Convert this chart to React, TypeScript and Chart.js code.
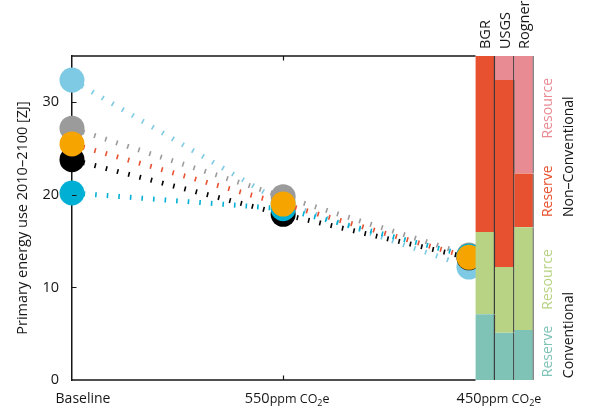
import React, { useEffect, useRef } from 'react';
import { Chart, registerables } from 'chart.js';

Chart.register(...registerables);

// ---------- data ----------
const scenarioLabels = ['Baseline', '550', '450'];
const scenarioX = [0, 1, 1.88];

const lightBlueValues = [32.4, 19.1, 12.2];
const grayValues = [27.2, 19.8, 13.5];
const orangeValues = [25.5, 19.0, 13.25];
const blackValues = [23.8, 17.9, 13.2];
const cyanValues = [20.2, 18.5, 13.4];

const sources = ['BGR', 'USGS', 'Rogner'];
const sourceX = [1.957, 2.049, 2.141];
const conventionalReserve = [7.1, 5.1, 5.4];
const conventionalResource = [8.9, 7.1, 11.1];
const nonConventionalReserve = [19.0, 20.2, 5.8];
const nonConventionalResource = [0, 2.6, 12.7];

const yTickStep = 10;
const yMax = 35;
const yTitle = 'Primary energy use 2010–2100 [ZJ]';

// ---------- styles ----------
const FONT = '"Open Sans", sans-serif';
const INK = '#161616';
const C_LIGHTBLUE = '#7ecae4';
const C_GRAY = '#9b9b9b';
const C_ORANGE = '#f5a400';
const C_RED = '#e8512f';
const C_BLACK = '#000000';
const C_CYAN = '#00b0d4';
const C_TEAL = '#7fc3b6';
const C_GREEN = '#b8d384';
const C_PINK = '#e98b93';

function seriesData(values: number[]) {
  return values.map((v, i) => ({ x: scenarioX[i], y: v }));
}

function floatingData(lower: number[][], seg: number[]) {
  return seg.map((v, i) => {
    const lo = lower.reduce((s, arr) => s + arr[i], 0);
    return { x: sourceX[i], y: [lo, lo + v] };
  });
}

function lineDataset(label: string, values: number[], pointColor: string, lineColor: string, order: number) {
  return {
    type: 'line' as const,
    label,
    data: seriesData(values),
    borderColor: lineColor,
    borderWidth: 5,
    borderDash: [1.6, 10],
    borderCapStyle: 'butt' as const,
    pointBackgroundColor: pointColor,
    pointBorderWidth: 0,
    pointRadius: 12.5,
    pointHoverRadius: 12.5,
    tension: 0,
    fill: false,
    clip: false as const,
    order,
  };
}

const barBorderColors = ['#3a3a3a', '#3a3a3a', '#8a8a8a'];

function barDataset(label: string, data: any[], color: string) {
  return {
    type: 'bar' as const,
    label,
    data,
    backgroundColor: color,
    borderColor: barBorderColors,
    borderWidth: { top: 0, bottom: 0, left: 0, right: 1.5 },
    borderSkipped: false as const,
    grouped: false,
    barPercentage: 1,
    categoryPercentage: 1,
    order: 0,
  };
}

function drawParts(ctx: CanvasRenderingContext2D, cx: number, baseline: number, parts: { text: string; size: number; dy?: number }[]) {
  const widths = parts.map((p) => {
    ctx.font = `${p.size}px ${FONT}`;
    return ctx.measureText(p.text).width;
  });
  const total = widths.reduce((a, b) => a + b, 0);
  let xx = cx - total / 2;
  ctx.textAlign = 'left';
  ctx.textBaseline = 'alphabetic';
  parts.forEach((p, i) => {
    ctx.font = `${p.size}px ${FONT}`;
    ctx.fillText(p.text, xx, baseline + (p.dy || 0));
    xx += widths[i];
  });
}

function drawRotated(ctx: CanvasRenderingContext2D, text: string, x: number, yStart: number, color: string, size = 14) {
  ctx.save();
  ctx.translate(x, yStart);
  ctx.rotate(-Math.PI / 2);
  ctx.font = `${size}px ${FONT}`;
  ctx.fillStyle = color;
  ctx.textAlign = 'left';
  ctx.textBaseline = 'middle';
  ctx.fillText(text, 0, 0);
  ctx.restore();
}

const decorations = {
  id: 'decorations',
  afterDatasetsDraw(chart: any) {
    const { ctx, chartArea, scales } = chart;
    const x = scales.x;
    const y = scales.y;
    ctx.save();

    const barMeta = chart.getDatasetMeta(0);
    const bars = barMeta.data;
    const barLeft = bars[0].x - bars[0].width / 2;

    // top and bottom frame lines
    ctx.strokeStyle = INK;
    ctx.lineWidth = 1.5;
    ctx.beginPath();
    ctx.moveTo(chartArea.left, chartArea.top);
    ctx.lineTo(barLeft, chartArea.top);
    ctx.moveTo(chartArea.left, chartArea.bottom);
    ctx.lineTo(barLeft, chartArea.bottom);
    ctx.stroke();

    // inward ticks on y
    ctx.lineWidth = 1.2;
    ctx.beginPath();
    for (let v = yTickStep; v < yMax; v += yTickStep) {
      const py = Math.round(y.getPixelForValue(v)) + 0.5;
      ctx.moveTo(chartArea.left, py);
      ctx.lineTo(chartArea.left + 4.5, py);
    }
    const px = Math.round(x.getPixelForValue(scenarioX[1])) + 0.5;
    ctx.moveTo(px, chartArea.top);
    ctx.lineTo(px, chartArea.top + 4.5);
    ctx.moveTo(px, chartArea.bottom);
    ctx.lineTo(px, chartArea.bottom - 4.5);
    ctx.stroke();

    // x labels
    ctx.fillStyle = INK;
    const labelOffsets = [11, 4, 30];
    const base = chartArea.bottom + 23;
    scenarioLabels.forEach((lab, i) => {
      const cx = x.getPixelForValue(scenarioX[i]) + labelOffsets[i];
      if (i === 0) {
        drawParts(ctx, cx, base, [{ text: lab, size: 14 }]);
      } else {
        drawParts(ctx, cx, base, [
          { text: lab, size: 14.5 },
          { text: 'ppm CO', size: 12.5 },
          { text: '2', size: 9, dy: 3 },
          { text: 'e', size: 12.5 },
        ]);
      }
    });

    // source labels above bars
    bars.forEach((b: any, i: number) => {
      drawRotated(ctx, sources[i], b.x + 1, chartArea.top - 7, INK, 14.5);
    });

    // right-side labels
    const colX = chartArea.right + 14;
    const blackX = chartArea.right + 35;
    drawRotated(ctx, 'Reserve', colX, y.getPixelForValue(0.3), C_TEAL);
    drawRotated(ctx, 'Resource', colX, y.getPixelForValue(7.6), C_GREEN);
    drawRotated(ctx, 'Conventional', blackX, y.getPixelForValue(0.2), INK);
    drawRotated(ctx, 'Reserve', colX, y.getPixelForValue(17.6), C_RED);
    drawRotated(ctx, 'Resource', colX, y.getPixelForValue(26.1), C_PINK);
    drawRotated(ctx, 'Non–Conventional', blackX, y.getPixelForValue(17.6), INK);

    ctx.restore();
  },
};

export default function App() {
  const canvasRef = useRef<HTMLCanvasElement | null>(null);

  useEffect(() => {
    document.body.style.margin = '0';
    const canvas = canvasRef.current;
    if (!canvas) return;

    const chart = new Chart(canvas, {
      type: 'line',
      data: {
        datasets: [
          barDataset('Conventional reserve', floatingData([], conventionalReserve), C_TEAL),
          barDataset('Conventional resource', floatingData([conventionalReserve], conventionalResource), C_GREEN),
          barDataset('Non-conventional reserve', floatingData([conventionalReserve, conventionalResource], nonConventionalReserve), C_RED),
          barDataset('Non-conventional resource', floatingData([conventionalReserve, conventionalResource, nonConventionalReserve], nonConventionalResource), C_PINK),
          lineDataset('Series A', lightBlueValues, C_LIGHTBLUE, C_LIGHTBLUE, 5),
          lineDataset('Series B', grayValues, C_GRAY, C_GRAY, 4),
          lineDataset('Series D', blackValues, C_BLACK, C_BLACK, 3),
          lineDataset('Series E', cyanValues, C_CYAN, C_CYAN, 2),
          lineDataset('Series C', orangeValues, C_ORANGE, C_RED, 1),
        ] as any,
      },
      options: {
        animation: false,
        responsive: true,
        maintainAspectRatio: false,
        events: [],
        layout: { padding: { left: 0, right: 57, top: 56, bottom: 31 } },
        plugins: {
          legend: { display: false },
          tooltip: { enabled: false },
        },
        scales: {
          x: {
            type: 'linear',
            display: false,
            min: 0,
            max: 2.188,
            offset: false,
            ticks: { stepSize: 0.5 },
          },
          y: {
            type: 'linear',
            min: 0,
            max: yMax,
            border: { display: true, color: INK, width: 1.5 },
            grid: { display: false, drawTicks: false },
            ticks: {
              stepSize: yTickStep,
              includeBounds: false,
              padding: 13,
              color: INK,
              font: { family: FONT, size: 14.5 },
            },
            title: {
              display: true,
              text: yTitle,
              color: INK,
              font: { family: FONT, size: 14.5 },
              padding: { top: 14, bottom: 0 },
            },
            afterFit: (s: any) => {
              s.width = 72;
            },
          },
        },
      } as any,
      plugins: [decorations],
    });

    return () => chart.destroy();
  }, []);

  return (
    <div style={{ position: 'relative', width: 591, height: 411 }}>
      <canvas ref={canvasRef} />
    </div>
  );
}
